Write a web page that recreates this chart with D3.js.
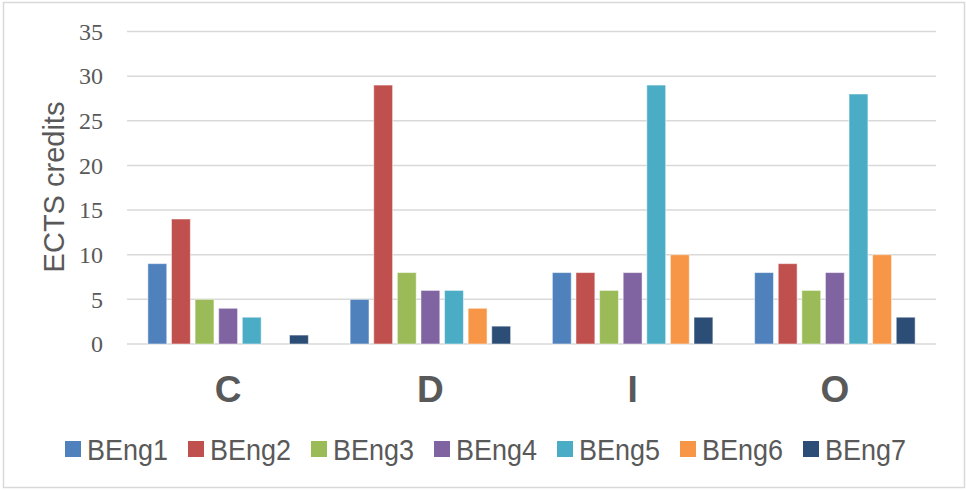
<!DOCTYPE html>
<html>
<head>
<meta charset="utf-8">
<script src="https://cdn.jsdelivr.net/npm/d3@7"></script>
<style>
  body { margin: 0; background: #fff; }
</style>
</head>
<body>
<svg id="chart"></svg>
<script>
// chart data
var categories = ["C", "D", "I", "O"];
var seriesNames = ["BEng1", "BEng2", "BEng3", "BEng4", "BEng5", "BEng6", "BEng7"];
var beng1 = [9, 5, 8, 8];
var beng2 = [14, 29, 8, 9];
var beng3 = [5, 8, 6, 6];
var beng4 = [4, 6, 8, 8];
var beng5 = [3, 6, 29, 28];
var beng6 = [0, 4, 10, 10];
var beng7 = [1, 2, 3, 3];
var yTicks = [0, 5, 10, 15, 20, 25, 30, 35];

var seriesValues = [beng1, beng2, beng3, beng4, beng5, beng6, beng7];
var colors = ["#4F81BD", "#C0504D", "#9BBB59", "#8064A2", "#4BACC6", "#F79646", "#2C4D75"];

var width = 966, height = 490;
var plot = { left: 127, right: 936, top: 31.5, bottom: 344 };

var svg = d3.select('#chart')
    .attr('width', width)
    .attr('height', height);

// outer border
svg.append('rect')
    .attr('x', 3.5).attr('y', 2.5)
    .attr('width', 961).attr('height', 485)
    .attr('fill', '#fff')
    .attr('stroke', '#d9d9d9')
    .attr('stroke-width', 1.5);

var yScale = d3.scaleLinear().domain([0, 35]).range([plot.bottom, plot.top]);
var x0 = d3.scaleBand().domain(categories).range([plot.left, plot.right])
    .paddingInner(0.183).paddingOuter(0.0915);
var x1 = d3.scaleBand().domain(seriesNames).range([0, x0.bandwidth()])
    .paddingInner(0.2).paddingOuter(0.1);

// gridlines
svg.append('g')
    .selectAll('line')
    .data(yTicks)
    .enter().append('line')
    .attr('x1', plot.left).attr('x2', plot.right)
    .attr('y1', d => yScale(d)).attr('y2', d => yScale(d))
    .attr('stroke', '#d9d9d9')
    .attr('stroke-width', 1.5);

// y axis labels
var yAxis = d3.axisLeft(yScale).tickValues(yTicks).tickSize(0).tickPadding(0);
var gy = svg.append('g')
    .attr('transform', 'translate(103,0)')
    .call(yAxis);
gy.select('.domain').remove();
gy.selectAll('text')
    .style('font-family', '"Liberation Serif", serif')
    .style('font-size', '24px')
    .attr('fill', '#595959');

// y axis title
svg.append('text')
    .attr('transform', 'translate(64,187) rotate(-90)')
    .attr('text-anchor', 'middle')
    .style('font-family', '"Liberation Sans", Arial, sans-serif')
    .style('font-size', '29px')
    .attr('fill', '#595959')
    .text('ECTS credits');

// bars
var groups = svg.append('g')
    .selectAll('g')
    .data(categories)
    .enter().append('g')
    .attr('transform', d => 'translate(' + x0(d) + ',0)');

groups.selectAll('rect')
    .data((c, i) => seriesNames.map((s, j) => ({ series: s, value: seriesValues[j][i], color: colors[j] })))
    .enter().append('rect')
    .filter(d => d.value > 0)
    .attr('x', d => x1(d.series))
    .attr('y', d => yScale(d.value))
    .attr('width', x1.bandwidth())
    .attr('height', d => yScale(0) - yScale(d.value))
    .attr('fill', d => d.color)
    .attr('stroke', '#fff')
    .attr('stroke-opacity', 0.5)
    .attr('stroke-width', 1);

// x axis labels
var xAxis = d3.axisBottom(x0).tickSize(0).tickPadding(0);
var gx = svg.append('g')
    .attr('transform', 'translate(0,' + 402 + ')')
    .call(xAxis);
gx.select('.domain').remove();
gx.selectAll('text')
    .attr('dy', 0)
    .style('font-family', '"Liberation Sans", Arial, sans-serif')
    .style('font-size', '37px')
    .style('font-weight', 'bold')
    .attr('fill', '#595959');

// legend
var legend = svg.append('g')
    .selectAll('g')
    .data(seriesNames)
    .enter().append('g')
    .attr('transform', (d, i) => 'translate(' + (65 + i * 123) + ',0)');

legend.append('rect')
    .attr('x', 0).attr('y', 441)
    .attr('width', 16).attr('height', 16)
    .attr('fill', (d, i) => colors[i]);

// text is a bit taller than plain Arial in the original
legend.append('text')
    .attr('transform', 'translate(22,460) scale(1,1.12)')
    .style('font-family', '"Liberation Sans", Arial, sans-serif')
    .style('font-size', '27px')
    .attr('fill', '#595959')
    .text(d => d);
</script>
</body>
</html>
